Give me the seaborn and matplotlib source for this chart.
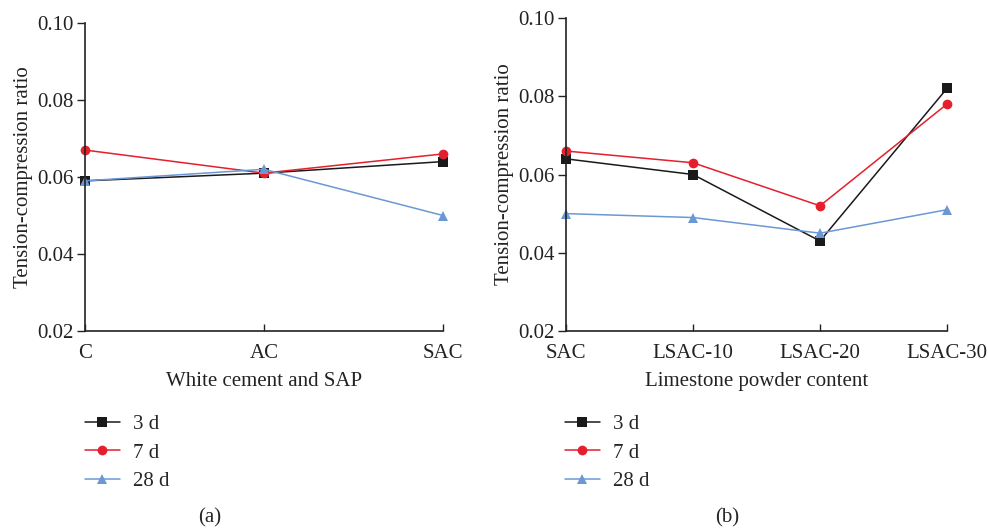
import matplotlib
matplotlib.use("Agg")
import matplotlib.pyplot as plt
import seaborn as sns

sns.set_style("ticks")
plt.rcParams['font.family'] = ['Liberation Serif', 'DejaVu Serif']

# panel (a)
cats_a = ["C", "AC", "SAC"]
a_3d = [0.059, 0.061, 0.064]
a_7d = [0.067, 0.061, 0.066]
a_28d = [0.059, 0.062, 0.050]

# panel (b)
cats_b = ["SAC", "LSAC-10", "LSAC-20", "LSAC-30"]
b_3d = [0.064, 0.060, 0.043, 0.082]
b_7d = [0.066, 0.063, 0.052, 0.078]
b_28d = [0.050, 0.049, 0.045, 0.051]

labels = ["3 d", "7 d", "28 d"]
colors = ["#1a1a1a", "#e3202b", "#6b98d4"]
markers = ["s", "o", "^"]

W, H = 988, 531
fig = plt.figure(figsize=(W / 100, H / 100), dpi=100)


def px_axes(x0, x1, ytop, ybot):
    return fig.add_axes([x0 / W, (H - ybot) / H, (x1 - x0) / W, (ybot - ytop) / H])


def draw(ax, cats, series, xlabel):
    for vals, lab, col, mk in zip(series, labels, colors, markers):
        sns.lineplot(x=cats, y=vals, ax=ax, color=col, marker=mk, markersize=7,
                     markeredgewidth=0, linewidth=1.1, label=lab, sort=False)
    ax.set_xlim(0, len(cats) - 1)
    ax.set_ylim(0.02, 0.10)
    ax.set_yticks([0.02, 0.04, 0.06, 0.08, 0.10])
    ax.set_yticklabels(["0.02", "0.04", "0.06", "0.08", "0.10"])
    ax.set_xlabel(xlabel, fontsize=15, labelpad=7, color="#222222")
    ax.set_ylabel("Tension-compression ratio", fontsize=15, labelpad=3, color="#222222")
    ax.tick_params(labelsize=15, length=5, width=1, colors="#222222")
    ax.tick_params(axis="x", direction="in", pad=9)
    ax.tick_params(axis="y", direction="out", pad=2, length=6)
    for s in ["top", "right"]:
        ax.spines[s].set_visible(False)
    for s in ["left", "bottom"]:
        ax.spines[s].set_color("#222222")
        ax.spines[s].set_linewidth(1.2)
    ax.get_legend().remove()
    for ln in ax.lines:
        ln.set_clip_on(False)


ax1 = px_axes(85, 443, 23, 331)
draw(ax1, cats_a, [a_3d, a_7d, a_28d], "White cement and SAP")

ax2 = px_axes(566, 947, 18, 331)
draw(ax2, cats_b, [b_3d, b_7d, b_28d], "Limestone powder content")

for ax, lx in [(ax1, 66), (ax2, 546)]:
    h, l = ax.get_legend_handles_labels()
    fig.legend(h, l, loc="upper left", bbox_to_anchor=(lx / W, 1 - 396 / H),
               frameon=False, fontsize=15, handlelength=1.7, labelspacing=0.42,
               handletextpad=0.6)

fig.text(210 / W, 1 - 518 / H, "(a)", ha="center", va="center", fontsize=15)
fig.text(727 / W, 1 - 518 / H, "(b)", ha="center", va="center", fontsize=15)

fig.savefig("out.png", dpi=100, facecolor="white")
